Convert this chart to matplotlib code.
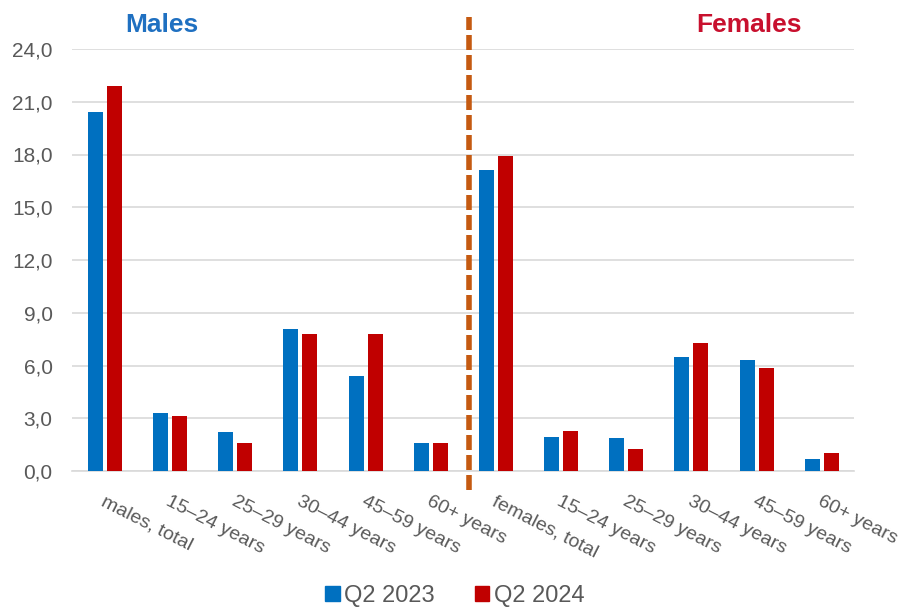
import numpy as np
import matplotlib.pyplot as plt
from matplotlib.patches import Patch
from matplotlib.ticker import FuncFormatter

plt.rcParams['font.family'] = ['Liberation Sans', 'DejaVu Sans']

# categories and values
categories = ['males, total', '15\u201324 years', '25\u201329 years', '30\u201344 years',
              '45\u201359 years', '60+ years', 'females, total', '15\u201324 years',
              '25\u201329 years', '30\u201344 years', '45\u201359 years', '60+ years']
q2_2023 = [20.4, 3.3, 2.2, 8.1, 5.4, 1.6, 17.1, 1.95, 1.85, 6.5, 6.3, 0.7]
q2_2024 = [21.9, 3.1, 1.6, 7.8, 7.8, 1.6, 17.9, 2.3, 1.25, 7.3, 5.85, 1.05]
series_names = ['Q2 2023', 'Q2 2024']

blue = '#0070c0'
red = '#c00000'
grey = '#595959'

fig = plt.figure(figsize=(9.11, 6.10), dpi=100)
ax = fig.add_axes([72/911, 1-471/610, (854-72)/911, (471-49)/610])

x = np.arange(len(categories))
w = 0.23
ax.bar(x - 0.14, q2_2023, width=w, color=blue, zorder=3)
ax.bar(x + 0.15, q2_2024, width=w, color=red, zorder=3)

ax.set_ylim(0, 24)
ax.set_xlim(-0.5, len(categories) - 0.5)
ax.set_yticks(np.arange(0, 24.1, 3))
ax.yaxis.set_major_formatter(FuncFormatter(lambda v, p: f"{v:.1f}".replace('.', ',')))
ax.grid(axis='y', color='#d9d9d9', linewidth=1.2, zorder=0)
for s in ['left', 'right', 'top']:
    ax.spines[s].set_visible(False)
ax.spines['bottom'].set_color('#d9d9d9')
ax.spines['bottom'].set_linewidth(1.2)
ax.tick_params(axis='y', length=0, pad=14, labelsize=15, labelcolor=grey)
ax.tick_params(axis='x', length=0, pad=16, labelsize=14, labelcolor=grey)

ax.set_xticks(x + 0.02)
ax.set_xticklabels(categories)
plt.setp(ax.get_xticklabels(), rotation=-27, ha='left', va='top', rotation_mode='anchor')

# dashed separator between males and females
ax.plot([5.59, 5.59], [-1.1, 25.8], color='#c55a11', lw=4,
        linestyle=(0, (2.7, 0.9)), clip_on=False, zorder=4)

fig.text(162/911, 1-25/610, 'Males', color='#1f70c1', fontsize=19,
         fontweight='bold', ha='center', va='center')
fig.text(749/911, 1-25/610, 'Females', color='#c8102e', fontsize=19,
         fontweight='bold', ha='center', va='center')

handles = [Patch(color=blue), Patch(color=red)]
fig.legend(handles, series_names, loc='center', bbox_to_anchor=(455/911, 1-596/610),
           ncol=2, frameon=False, fontsize=17, handlelength=0.6, handleheight=0.6,
           handletextpad=0.2, columnspacing=1.7, labelcolor=grey)

fig.savefig('out.png', dpi=100)
